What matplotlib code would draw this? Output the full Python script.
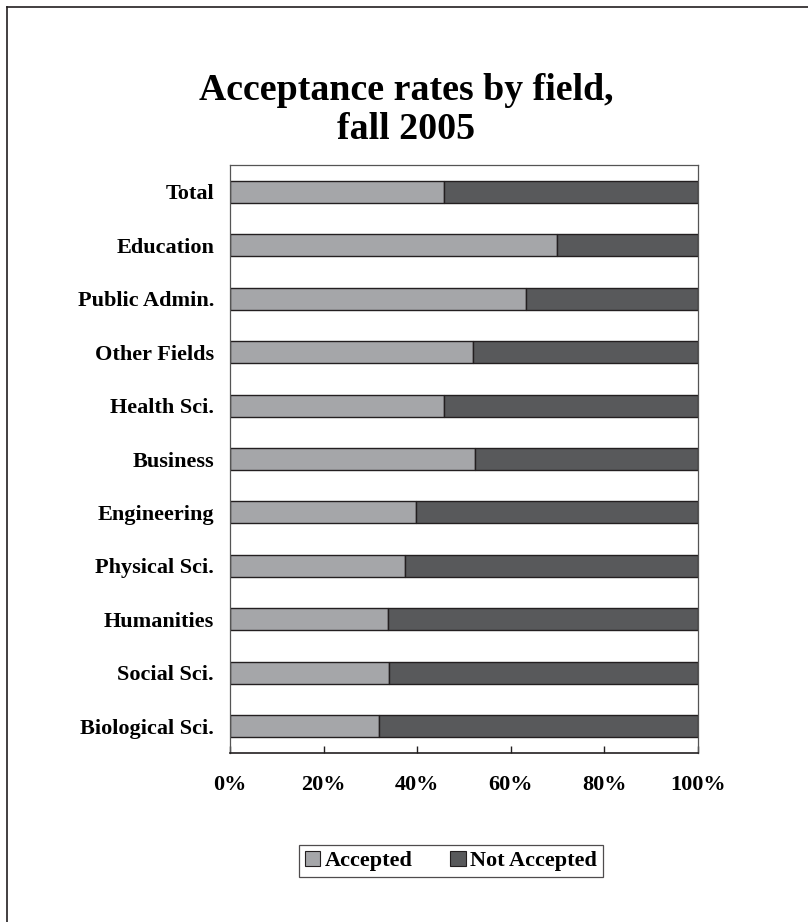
import matplotlib
matplotlib.use("Agg")
import matplotlib.pyplot as plt
from matplotlib.lines import Line2D
from matplotlib.patches import Patch
from matplotlib.ticker import FuncFormatter

categories = ["Total", "Education", "Public Admin.", "Other Fields", "Health Sci.",
              "Business", "Engineering", "Physical Sci.", "Humanities", "Social Sci.",
              "Biological Sci."]
accepted = [45.8, 69.9, 63.2, 52.0, 45.7, 52.3, 39.8, 37.5, 33.8, 33.9, 31.8]
not_accepted = [100 - a for a in accepted]
x_ticks = [0, 20, 40, 60, 80, 100]
series_names = ["Accepted", "Not Accepted"]

plt.rcParams['font.family'] = ['Liberation Serif', 'DejaVu Serif']
plt.rcParams['font.weight'] = 'bold'

C_ACC = "#a5a6a9"
C_NOT = "#58595b"
EDGE = "#231f20"
FS = 16

fig = plt.figure(figsize=(8.08, 9.22), dpi=100)
ax = fig.add_axes([230/808, 169/922, 468/808, 588/922])

ypos = list(range(len(categories)))
ax.barh(ypos, accepted, height=0.41, color=C_ACC, edgecolor=EDGE, linewidth=1.0)
ax.barh(ypos, not_accepted, left=accepted, height=0.41, color=C_NOT, edgecolor=EDGE, linewidth=1.0)

ax.set_ylim(len(categories) - 0.5, -0.5)
ax.set_xlim(0, 100)
ax.set_yticks(ypos)
ax.set_yticklabels(categories, fontsize=FS, fontweight='bold')
ax.tick_params(axis='y', length=0, pad=11.5)
ax.set_xticks(x_ticks)
ax.xaxis.set_major_formatter(FuncFormatter(lambda v, p: f"{int(v)}%"))
ax.tick_params(axis='x', direction='in', length=5, width=1, color=EDGE, pad=16, labelsize=FS)
for lab in ax.get_xticklabels():
    lab.set_fontweight('bold')

for s in ['left', 'right', 'top']:
    ax.spines[s].set_color("#555555")
    ax.spines[s].set_linewidth(0.9)
ax.spines['bottom'].set_color(EDGE)
ax.spines['bottom'].set_linewidth(1.2)

fig.text(0.503, 1 - 110/922, "Acceptance rates by field,\nfall 2005", ha='center', va='center',
         fontsize=27.3, fontweight='bold', linespacing=1.15)

handles = [Patch(facecolor=C_ACC, edgecolor=EDGE, linewidth=0.8),
           Patch(facecolor=C_NOT, edgecolor=EDGE, linewidth=0.8)]
leg = fig.legend(handles, series_names, loc='center', bbox_to_anchor=(451/808, 1 - 861/922),
                 ncol=2, frameon=True, fancybox=False, fontsize=FS, handlelength=0.7,
                 handleheight=0.7, handletextpad=0.2, columnspacing=1.7, borderpad=0.25,
                 borderaxespad=0.0)
leg.get_frame().set_edgecolor(EDGE)
leg.get_frame().set_linewidth(0.9)
for t in leg.get_texts():
    t.set_fontweight('bold')

fig.add_artist(Line2D([7/808, 7/808], [0, 1 - 7/922], transform=fig.transFigure, color=EDGE, linewidth=1.2))
fig.add_artist(Line2D([7/808, 1], [1 - 7/922, 1 - 7/922], transform=fig.transFigure, color=EDGE, linewidth=1.2))

fig.savefig("out.png", dpi=100)
